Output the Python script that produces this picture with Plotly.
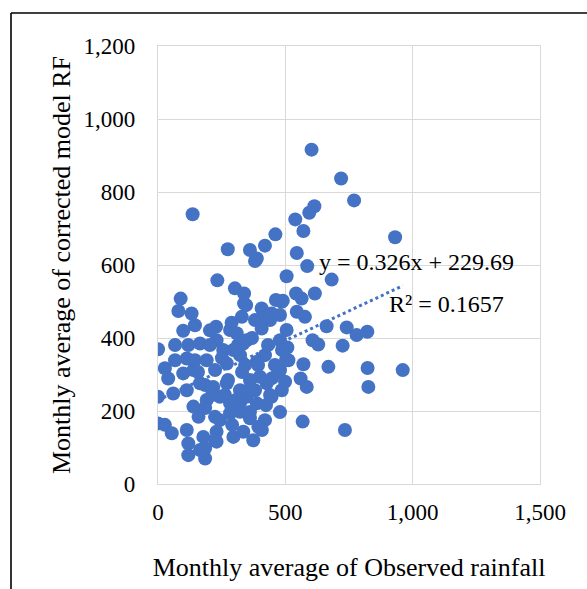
import plotly.graph_objects as go

# Observed monthly rainfall (x) and corrected model RF (y)
obs_rain = [603, 719, 770, 614, 594, 539, 571, 136, 461, 420, 274, 361, 388, 545, 931,
            586, 505, 682, 381, 233, 302, 338, 89, 80, 132, 99, 338, 407, 446, 486,
            542, 616, 490, 564, 545, 577, 662, 741, 780, 822, 505, 479, 607, 629, 725,
            508, 512, 571, 669, 823, 961, 479, 499, 560, 584, 826, 486, 568, 734, 228,
            289, 329, 407, 0, 119, 165, 230, 309, 348, 27, 40, 113, 60, 113, 0,
            472, 446, 427, 400, 388, 322, 256, 191, 139, 99, 165, 217, 270, 322, 348,
            388, 243, 191, 139, 159, 0, 27, 54, 113, 119, 119, 185, 185, 178, 230,
            230, 224, 283, 322, 361, 420, 296, 335, 374, 394, 283, 322, 270, 296, 335,
            204, 342, 420, 459, 185, 263, 361, 440, 302, 381, 145, 224, 283, 381, 440,
            479, 67, 67,
            145, 204, 251, 314, 369, 432, 487, 157, 212, 275, 330, 393, 448, 503, 185,
            243, 306, 361, 424, 479, 346, 408, 463, 353, 291, 408, 224, 165]
model_rf = [916, 837, 777, 761, 743, 725, 693, 739, 684, 653, 643, 641, 618, 633, 676,
            597, 569, 560, 611, 558, 536, 522, 508, 474, 467, 420, 495, 481, 467, 499,
            522, 522, 502, 508, 472, 458, 432, 429, 408, 417, 422, 394, 394, 382, 379,
            374, 339, 328, 321, 318, 312, 312, 280, 289, 266, 266, 257, 171, 148, 431,
            442, 458, 426, 369, 381, 385, 394, 413, 394, 317, 289, 344, 248, 257, 239,
            307, 239, 276, 294, 335, 353, 367, 339, 312, 303, 276, 266, 276, 257, 239,
            221, 239, 230, 212, 184, 166, 162, 139, 148, 111, 79, 70, 98, 129, 143,
            116, 184, 194, 198, 180, 175, 129, 143, 120, 157, 221, 221, 330, 367, 385,
            421, 326, 353, 326, 271, 244, 285, 244, 203, 257, 339, 312, 422, 449, 449,
            463, 339, 381,
            435, 381, 345, 381, 400, 381, 367, 307, 244, 285, 307, 326, 290, 339, 208,
            175, 230, 197, 216, 197, 490, 454, 504, 257, 162, 148, 120, 93]

# Linear trendline as reported on the chart
slope = 0.326
intercept = 229.69
eq_label = "y = 0.326x + 229.69"
r2_label = "R² = 0.1657"

x_ticks = [0, 500, 1000, 1500]
y_ticks = [0, 200, 400, 600, 800, 1000, 1200]

BLUE = "#4472C4"
GRID = "#D9D9D9"
FONT = "Liberation Serif, Times New Roman, serif"
TICKFONT = dict(family=FONT, size=23, color="#000000")
TITLEFONT = dict(family=FONT, size=26, color="#000000")
NOTEFONT = dict(family=FONT, size=24, color="#000000")

trend_x = [min(obs_rain), max(obs_rain)]
trend_y = [slope * v + intercept for v in trend_x]

fig = go.Figure()
fig.add_trace(go.Scatter(x=trend_x, y=trend_y, mode="lines",
                         line=dict(color=BLUE, width=3, dash="dot"),
                         showlegend=False, hoverinfo="skip"))
fig.add_trace(go.Scatter(x=obs_rain, y=model_rf, mode="markers",
                         marker=dict(color=BLUE, size=14, line=dict(width=0)),
                         showlegend=False))

ML, MR, MT, MB = 158, 47, 46, 105
W, H = 587, 589
PW, PH = W - ML - MR, H - MT - MB


def px2paper_x(px):
    return (px - ML) / PW


def px2paper_y(py):
    return (H - MB - py) / PH


fig.update_layout(
    width=W, height=H,
    margin=dict(l=ML, r=MR, t=MT, b=MB),
    paper_bgcolor="white", plot_bgcolor="white",
    font=dict(family=FONT, size=23, color="#000000"),
    xaxis=dict(range=[0, 1500], tickvals=x_ticks, tickformat=",d",
               tickfont=TICKFONT,
               showgrid=True, gridcolor=GRID, gridwidth=1.3,
               showline=True, linecolor=GRID, linewidth=1.3, mirror=True,
               zeroline=False, ticks="", ticklabelstandoff=7,
               title=dict(text="Monthly average of Observed rainfall",
                          standoff=34, font=TITLEFONT),
               automargin=False),
    yaxis=dict(range=[0, 1200], tickvals=y_ticks, tickformat=",d",
               tickfont=TICKFONT,
               showgrid=True, gridcolor=GRID, gridwidth=1.3,
               showline=True, linecolor=GRID, linewidth=1.3, mirror=True,
               zeroline=False, ticks="", ticklabelstandoff=17,
               title=dict(text="Monthly average of corrected model RF",
                          standoff=5, font=TITLEFONT),
               automargin=False),
    annotations=[
        dict(text=eq_label, xref="paper", yref="paper",
             x=px2paper_x(317), y=px2paper_y(262), xanchor="left", yanchor="middle",
             showarrow=False, font=NOTEFONT),
        dict(text=r2_label, xref="paper", yref="paper",
             x=px2paper_x(387), y=px2paper_y(304), xanchor="left", yanchor="middle",
             showarrow=False, font=NOTEFONT),
    ],
    shapes=[
        dict(type="line", xref="paper", yref="paper",
             x0=px2paper_x(11), y0=px2paper_y(13), x1=px2paper_x(600), y1=px2paper_y(13),
             line=dict(color="#000000", width=1.6)),
        dict(type="line", xref="paper", yref="paper",
             x0=px2paper_x(11), y0=px2paper_y(13), x1=px2paper_x(11), y1=px2paper_y(600),
             line=dict(color="#000000", width=1.6)),
    ],
)

fig.write_html("out.html")
